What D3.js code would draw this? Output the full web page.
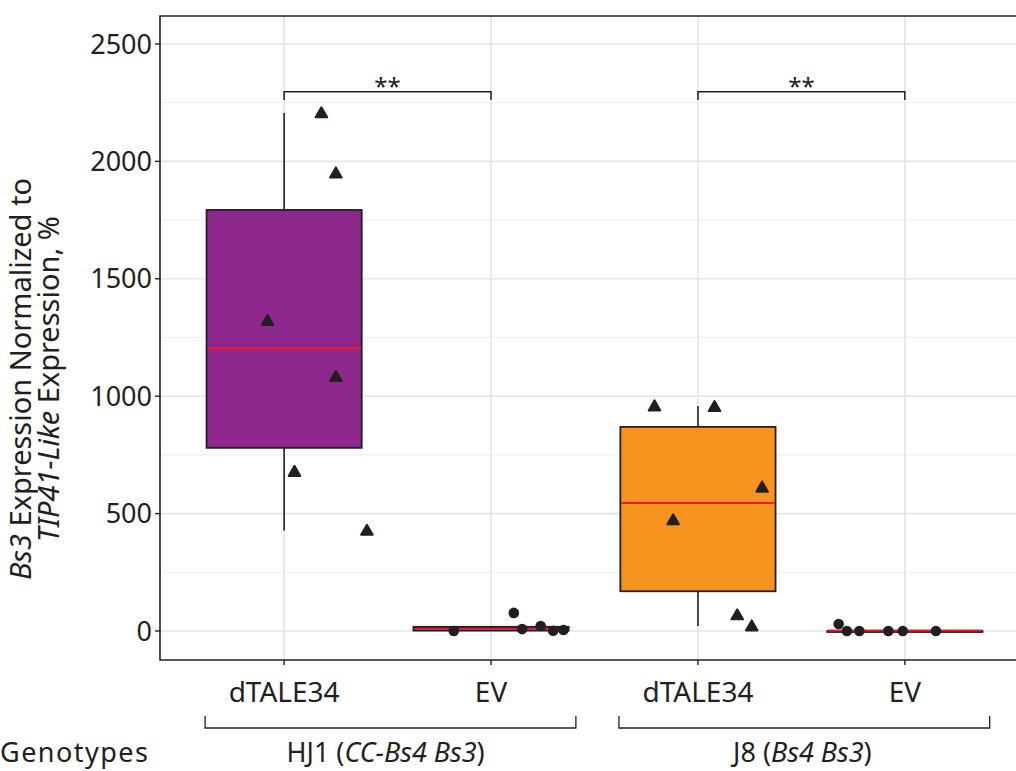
<!DOCTYPE html>
<html>
<head>
<meta charset="utf-8">
<script src="https://cdn.jsdelivr.net/npm/d3@7"></script>
<style>
  html, body { margin: 0; padding: 0; background: #fff; }
  svg { display: block; font-family: "Noto Sans", "Open Sans", sans-serif; }
</style>
</head>
<body>
<svg id="chart" width="1016" height="771"></svg>
<script>
// Expression of Bs3 (relative to TIP41-Like) per genotype and construct
const groupKeys = ["HJ1-dTALE34", "HJ1-EV", "J8-dTALE34", "J8-EV"];
const categoryLabels = ["dTALE34", "EV", "dTALE34", "EV"];
const genotypeLabels = ["HJ1", "J8"];

const hj1Dtale34 = [2206, 1950, 1322, 1083, 679, 428];
const hj1EV = [0, 77, 8, 21, 1, 4];
const j8Dtale34 = [958, 955, 612, 473, 68, 21];
const j8EV = [30, 0, 0, 0, 0, 0];

// horizontal jitter of the replicate points, in category-step units
const hj1Dtale34Jitter = [0.18, 0.25, -0.08, 0.25, 0.05, 0.40];
const hj1EVJitter = [-0.18, 0.11, 0.15, 0.24, 0.30, 0.35];
const j8Dtale34Jitter = [-0.21, 0.08, 0.31, -0.12, 0.19, 0.26];
const j8EVJitter = [-0.32, -0.28, -0.22, -0.08, -0.01, 0.15];

const yTicks = [0, 500, 1000, 1500, 2000, 2500];
const yMinorTicks = [250, 750, 1250, 1750, 2250];
const significance = [["HJ1-dTALE34", "HJ1-EV", "**"], ["J8-dTALE34", "J8-EV", "**"]];

const groups = [
  { key: groupKeys[0], values: hj1Dtale34, jitter: hj1Dtale34Jitter, fill: "#8e278c", shape: "triangle" },
  { key: groupKeys[1], values: hj1EV, jitter: hj1EVJitter, fill: "#8e278c", shape: "circle" },
  { key: groupKeys[2], values: j8Dtale34, jitter: j8Dtale34Jitter, fill: "#f7931e", shape: "triangle" },
  { key: groupKeys[3], values: j8EV, jitter: j8EVJitter, fill: "#f7931e", shape: "circle" }
];

const ink = "#231f20";
const panel = { left: 160, top: 16, right: 1029, bottom: 660 };

const svg = d3.select("#chart");

const x = d3.scalePoint().domain(groupKeys).range([panel.left, panel.right]).padding(0.6);
const step = x.step();
const y = d3.scaleLinear().domain([-123.5, 2619]).range([panel.bottom, panel.top]);

const defs = svg.append("defs");
defs.append("clipPath").attr("id", "panelClip")
  .append("rect").attr("x", panel.left).attr("y", panel.top)
  .attr("width", panel.right - panel.left).attr("height", panel.bottom - panel.top);

const plot = svg.append("g").attr("clip-path", "url(#panelClip)");

// grid
plot.selectAll("line.minor").data(yMinorTicks).join("line")
  .attr("x1", panel.left).attr("x2", panel.right)
  .attr("y1", d => y(d)).attr("y2", d => y(d))
  .attr("stroke", "#efefef").attr("stroke-width", 1.2);
plot.selectAll("line.major").data(yTicks).join("line")
  .attr("x1", panel.left).attr("x2", panel.right)
  .attr("y1", d => y(d)).attr("y2", d => y(d))
  .attr("stroke", "#e4e4e4").attr("stroke-width", 1.6);
plot.selectAll("line.vgrid").data(groupKeys).join("line")
  .attr("x1", d => x(d)).attr("x2", d => x(d))
  .attr("y1", panel.top).attr("y2", panel.bottom)
  .attr("stroke", "#e4e4e4").attr("stroke-width", 1.6);

// box plots
const boxW = step * 0.75;
groups.forEach(g => {
  const s = g.values.slice().sort(d3.ascending);
  const q1 = d3.quantileSorted(s, 0.25);
  const med = d3.quantileSorted(s, 0.5);
  const q3 = d3.quantileSorted(s, 0.75);
  const iqr = q3 - q1;
  const lo = d3.min(s.filter(v => v >= q1 - 1.5 * iqr));
  const hi = d3.max(s.filter(v => v <= q3 + 1.5 * iqr));
  const cx = x(g.key);
  const bg = plot.append("g");
  bg.append("line").attr("x1", cx).attr("x2", cx).attr("y1", y(hi)).attr("y2", y(q3))
    .attr("stroke", ink).attr("stroke-width", 1.6);
  bg.append("line").attr("x1", cx).attr("x2", cx).attr("y1", y(q1)).attr("y2", y(lo))
    .attr("stroke", ink).attr("stroke-width", 1.6);
  bg.append("rect").attr("x", cx - boxW / 2).attr("width", boxW)
    .attr("y", y(q3)).attr("height", Math.max(y(q1) - y(q3), 1))
    .attr("fill", g.fill).attr("stroke", ink).attr("stroke-width", 1.8);
  bg.append("line").attr("x1", cx - boxW / 2 + 1).attr("x2", cx + boxW / 2 - 1)
    .attr("y1", y(med) - 0.5).attr("y2", y(med) - 0.5)
    .attr("stroke", "#ed1c24").attr("stroke-width", 2);
});

// replicate points
const tri = d3.symbol().type(d3.symbolTriangle).size(58);
groups.forEach(g => {
  const pts = g.values.map((v, i) => ({ v, dx: g.jitter[i] }));
  if (g.shape === "triangle") {
    plot.append("g").selectAll("path").data(pts).join("path")
      .attr("d", tri)
      .attr("transform", d => `translate(${x(g.key) + d.dx * step},${y(d.v) + 1})`)
      .attr("fill", ink).attr("stroke", ink).attr("stroke-width", 2).attr("stroke-linejoin", "round");
  } else {
    plot.append("g").selectAll("circle").data(pts).join("circle")
      .attr("cx", d => x(g.key) + d.dx * step).attr("cy", d => y(d.v))
      .attr("r", 5.3).attr("fill", ink);
  }
});

// significance brackets
const sigY = 2296, sigDrop = 35;
significance.forEach(([a, b, label]) => {
  const g = svg.append("g");
  g.append("path")
    .attr("d", `M${x(a)},${y(sigY - sigDrop)}V${y(sigY)}H${x(b)}V${y(sigY - sigDrop)}`)
    .attr("fill", "none").attr("stroke", ink).attr("stroke-width", 1.5);
  g.append("text").attr("x", (x(a) + x(b)) / 2).attr("y", y(sigY) + 3)
    .attr("text-anchor", "middle").attr("font-size", 24).attr("fill", ink).text(label);
});

// panel border (left, top, bottom)
svg.append("path")
  .attr("d", `M${panel.right},${panel.top}H${panel.left}V${panel.bottom}H${panel.right}`)
  .attr("fill", "none").attr("stroke", ink).attr("stroke-width", 1.6);

// y axis
const yAxis = svg.append("g");
yAxis.selectAll("line").data(yTicks).join("line")
  .attr("x1", panel.left - 5).attr("x2", panel.left)
  .attr("y1", d => y(d)).attr("y2", d => y(d)).attr("stroke", ink).attr("stroke-width", 1.4);
yAxis.selectAll("text").data(yTicks).join("text")
  .attr("x", panel.left - 8).attr("y", d => y(d)).attr("dy", "0.36em")
  .attr("text-anchor", "end").attr("font-size", 27).attr("fill", ink).text(d => d);

// x axis
const xAxis = svg.append("g");
xAxis.selectAll("line").data(groupKeys).join("line")
  .attr("x1", d => x(d)).attr("x2", d => x(d))
  .attr("y1", panel.bottom).attr("y2", panel.bottom + 5).attr("stroke", ink).attr("stroke-width", 1.4);
xAxis.selectAll("text").data(groupKeys).join("text")
  .attr("x", d => x(d)).attr("y", 702)
  .attr("text-anchor", "middle").attr("font-size", 28).attr("fill", ink)
  .text((d, i) => categoryLabels[i]);

// genotype brackets
genotypeLabels.forEach((gName, i) => {
  const a = x(groupKeys[2 * i]), b = x(groupKeys[2 * i + 1]);
  const l = a - 0.382 * step, r = b + 0.41 * step;
  svg.append("path").attr("d", `M${l},716V728H${r}V716`)
    .attr("fill", "none").attr("stroke", ink).attr("stroke-width", 1.3);
});

const genoText = svg.append("g").attr("font-size", 27).attr("fill", ink);
genoText.append("text").attr("x", 0).attr("y", 762).attr("textLength", 148).text("Genotypes");
const t1 = genoText.append("text").attr("x", (x(groupKeys[0]) + x(groupKeys[1])) / 2 - 2).attr("y", 762)
  .attr("text-anchor", "middle");
t1.append("tspan").text("HJ1 (");
t1.append("tspan").attr("font-style", "italic").text("CC-Bs4 Bs3");
t1.append("tspan").text(")");
const t2 = genoText.append("text").attr("x", (x(groupKeys[2]) + x(groupKeys[3])) / 2 + 1).attr("y", 762)
  .attr("text-anchor", "middle");
t2.append("tspan").text("J8 (");
t2.append("tspan").attr("font-style", "italic").text("Bs4 Bs3");
t2.append("tspan").text(")");

// y axis title
const yTitle = svg.append("g").attr("transform", "translate(0,379) rotate(-90)")
  .attr("font-size", 29).attr("fill", ink);
const l1 = yTitle.append("text").attr("x", 0).attr("y", 31).attr("text-anchor", "middle");
l1.append("tspan").attr("font-style", "italic").text("Bs3");
l1.append("tspan").text(" Expression Normalized to");
const l2 = yTitle.append("text").attr("x", 0).attr("y", 59).attr("text-anchor", "middle");
l2.append("tspan").attr("font-style", "italic").text("TIP41-Like");
l2.append("tspan").text(" Expression, %");
</script>
</body>
</html>
